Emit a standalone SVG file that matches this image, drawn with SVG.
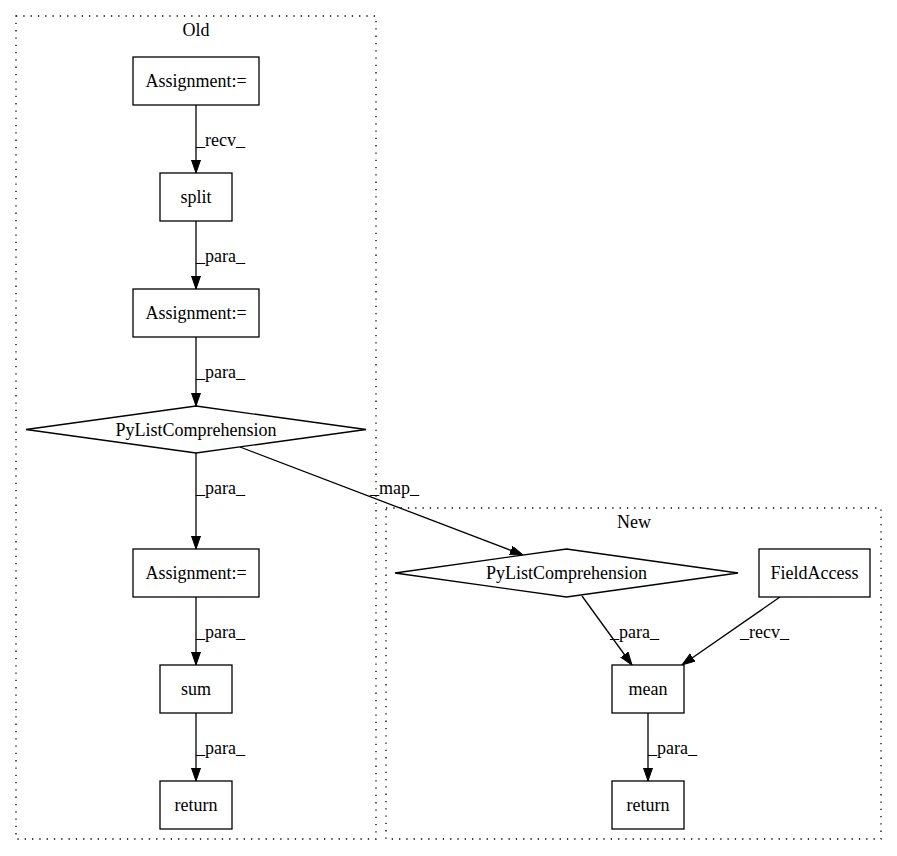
<svg xmlns="http://www.w3.org/2000/svg" width="897" height="856" viewBox="0 0 897 856">
<defs>
<style>
text{font-family:"Liberation Serif","Times New Roman",serif;font-size:18px;fill:#000}
.n{text-anchor:middle}
.node{fill:#fff;stroke:#000;stroke-width:1.3}
.cl{fill:none;stroke:#000;stroke-width:1.3;stroke-dasharray:1.3,6}
.e{fill:none;stroke:#000;stroke-width:1.3;marker-end:url(#arr)}
</style>
<marker id="arr" markerUnits="userSpaceOnUse" markerWidth="14" markerHeight="10" refX="13" refY="4.5" orient="auto">
<path d="M0,0 L13,4.5 L0,9 z" fill="#000" stroke="#000" stroke-width="1"/>
</marker>
</defs>
<rect width="897" height="856" fill="#fff"/>
<g id="cluster_old">
<rect class="cl" x="16" y="16" width="360" height="823"/>
<text class="n" x="196" y="36">Old</text>
</g>
<g id="cluster_new">
<rect class="cl" x="386" y="508" width="495" height="331"/>
<text class="n" x="634" y="528">New</text>
</g>
<g id="edges">
<path class="e" d="M196,105 L196,173"/>
<text x="196" y="146">_recv_</text>
<path class="e" d="M196,221 L196,289"/>
<text x="196" y="262">_para_</text>
<path class="e" d="M196,337 L196,406"/>
<text x="196" y="378">_para_</text>
<path class="e" d="M196,453 L196,549"/>
<text x="196" y="494">_para_</text>
<path class="e" d="M196,597 L196,665"/>
<text x="196" y="638">_para_</text>
<path class="e" d="M196,713 L196,781"/>
<text x="196" y="754">_para_</text>
<path class="e" d="M240,447 L523,555"/>
<text x="370" y="494">_map_</text>
<path class="e" d="M582,596 L632,665"/>
<text x="610" y="638">_para_</text>
<path class="e" d="M780,597 L682,665"/>
<text x="740" y="638">_recv_</text>
<path class="e" d="M648,713 L648,781"/>
<text x="648" y="754">_para_</text>
</g>
<g id="old_assign1"><rect class="node" x="133" y="57" width="126" height="48"/><text class="n" x="196" y="87">Assignment:=</text></g>
<g id="old_split"><rect class="node" x="160" y="173" width="72" height="48"/><text class="n" x="196" y="203">split</text></g>
<g id="old_assign2"><rect class="node" x="133" y="289" width="126" height="48"/><text class="n" x="196" y="319">Assignment:=</text></g>
<g id="old_plc"><polygon class="node" points="196,406 366,429.5 196,453 26,429.5"/><text class="n" x="196" y="435.5">PyListComprehension</text></g>
<g id="old_assign3"><rect class="node" x="133" y="549" width="126" height="48"/><text class="n" x="196" y="579">Assignment:=</text></g>
<g id="old_sum"><rect class="node" x="160" y="665" width="72" height="48"/><text class="n" x="196" y="695">sum</text></g>
<g id="old_return"><rect class="node" x="160" y="781" width="72" height="48"/><text class="n" x="196" y="811">return</text></g>
<g id="new_plc"><polygon class="node" points="566.5,549 738,573 566.5,597 395,573"/><text class="n" x="566.5" y="579">PyListComprehension</text></g>
<g id="new_field"><rect class="node" x="759" y="549" width="111" height="48"/><text class="n" x="814.5" y="579">FieldAccess</text></g>
<g id="new_mean"><rect class="node" x="612" y="665" width="72" height="48"/><text class="n" x="648" y="695">mean</text></g>
<g id="new_return"><rect class="node" x="612" y="781" width="72" height="48"/><text class="n" x="648" y="811">return</text></g>
</svg>
